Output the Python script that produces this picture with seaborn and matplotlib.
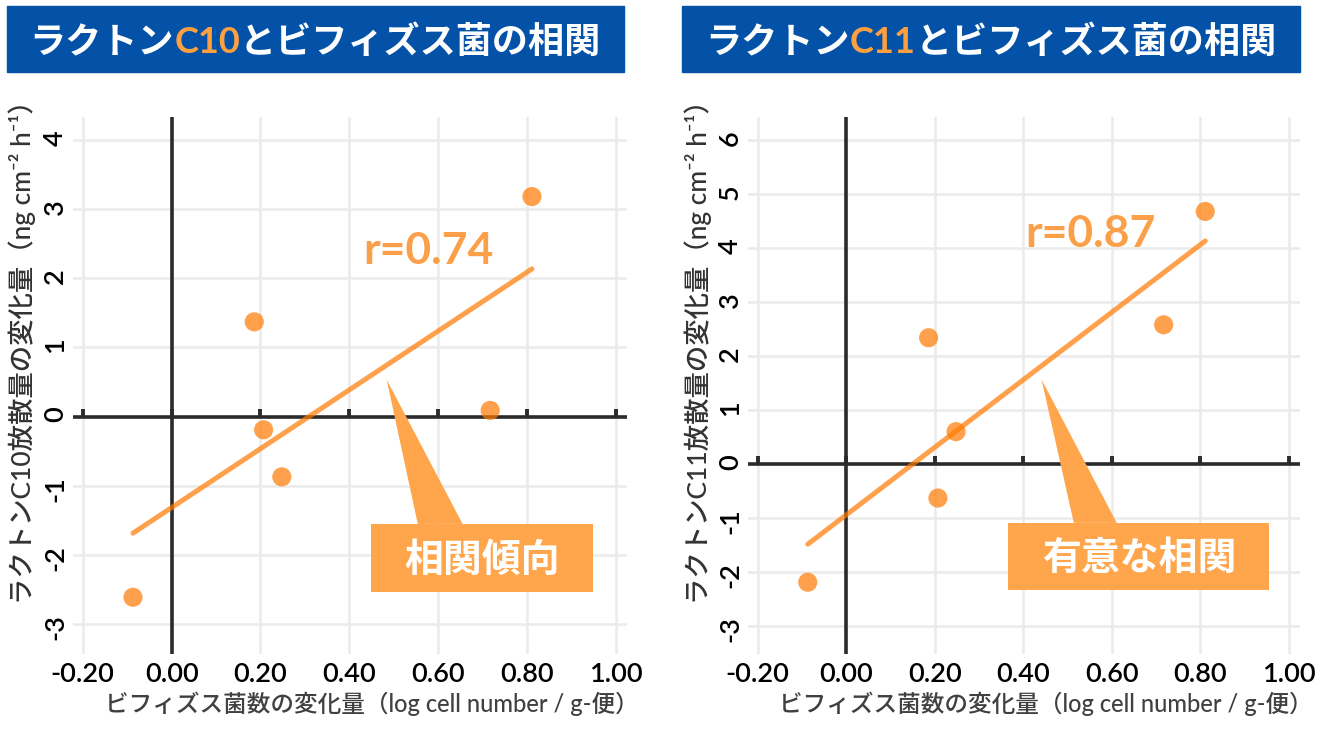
import matplotlib
matplotlib.use("Agg")
import matplotlib.pyplot as plt
import seaborn as sns
from matplotlib.patches import Rectangle, Polygon
from matplotlib.ticker import FormatStrFormatter

# data
bifido_change = [-0.087, 0.186, 0.207, 0.248, 0.717, 0.811]
c10_change = [-2.61, 1.37, -0.19, -0.87, 0.09, 3.18]
c11_change = [-2.19, 2.34, -0.63, 0.60, 2.58, 4.68]

x_ticks = [-0.2, 0.0, 0.2, 0.4, 0.6, 0.8, 1.0]
c10_yticks = [-3, -2, -1, 0, 1, 2, 3, 4]
c11_yticks = [-3, -2, -1, 0, 1, 2, 3, 4, 5, 6]

c10_title = [("ラクトン", "white"), ("C10", "#FFA040"), ("とビフィズス菌の相関", "white")]
c11_title = [("ラクトン", "white"), ("C11", "#FFA040"), ("とビフィズス菌の相関", "white")]
c10_r = "r=0.74"
c11_r = "r=0.87"
c10_callout = "相関傾向"
c11_callout = "有意な相関"
c10_ylabel = "ラクトンC10放散量の変化量（ng cm⁻² h⁻¹）"
c11_ylabel = "ラクトンC11放散量の変化量（ng cm⁻² h⁻¹）"
xlabel = "ビフィズス菌数の変化量（log cell number / g-便）"

sns.set_theme(style="whitegrid")
plt.rcParams["font.family"] = ["Lato", "Noto Sans CJK JP", "DejaVu Sans"]
plt.rcParams["font.weight"] = "semibold"
plt.rcParams["axes.unicode_minus"] = False

ORANGE = "#FF7A00"
CALLOUT = "#FFA64D"
BLUE = "#0352A8"
AXIS = "#2B2B2B"
W, H = 1320, 740

fig = plt.figure(figsize=(13.2, 7.4), dpi=100)
renderer = fig.canvas.get_renderer()


def banner(x0, x1, parts):
    fig.patches.append(Rectangle((x0 / W, 1 - 72 / H), (x1 - x0) / W, 66 / H,
                                 transform=fig.transFigure, color=BLUE, zorder=0))
    texts = []
    for s, c in parts:
        t = fig.text(0, 1 - 53 / H, s, color=c, fontsize=26, fontweight="bold",
                     va="baseline", ha="left")
        texts.append((t, t.get_window_extent(renderer).width))
    start = (x0 + x1) / 2 - sum(w for _, w in texts) / 2
    for t, w in texts:
        t.set_x(start / W)
        start += w


def panel(rect, y, yticks, ylim, ylab, r_text, r_pos, callout, box, tip, base, txt_pos):
    ax = fig.add_axes(rect)
    ax.set_xlim(-0.222, 1.025)
    ax.set_ylim(*ylim)
    ax.set_xticks(x_ticks)
    ax.set_yticks(yticks)
    ax.xaxis.set_major_formatter(FormatStrFormatter("%.2f"))
    ax.grid(True, color="#EBEBEB", lw=1.8)
    ax.set_axisbelow(True)
    for s in ax.spines.values():
        s.set_visible(False)
    ax.tick_params(length=0, labelsize=19.5, labelcolor="black")
    ax.tick_params(axis="x", pad=6)
    ax.tick_params(axis="y", pad=3.5, labelrotation=90)

    ax.axhline(0, color=AXIS, lw=2.6, zorder=2)
    ax.axvline(0, color=AXIS, lw=2.6, zorder=2)
    ax.plot(x_ticks, [0] * len(x_ticks), ls="none", marker=2, ms=6, mew=2.8,
            color=AXIS, zorder=2)

    sns.regplot(x=bifido_change, y=y, ax=ax, scatter=False, ci=None, truncate=True,
                line_kws=dict(color=ORANGE, alpha=0.7, lw=3.6, zorder=3))
    sns.scatterplot(x=bifido_change, y=y, ax=ax, s=190, color=ORANGE, alpha=0.7,
                    edgecolor="none", zorder=4)

    ax.text(r_pos[0], r_pos[1], r_text, color="#FBA048", fontsize=32,
            fontweight="bold", ha="center", va="baseline", zorder=6)
    ax.add_patch(Rectangle((box[0], box[2]), box[1] - box[0], box[3] - box[2],
                           color=CALLOUT, zorder=5, lw=0))
    ax.add_patch(Polygon([tip, (base[0], box[3]), (base[1], box[3])],
                         closed=True, color=CALLOUT, zorder=5, lw=0))
    ax.text(txt_pos[0], txt_pos[1], callout, color="white", fontsize=28,
            fontweight="bold", ha="center", va="center", zorder=6)

    ax.set_xlabel(xlabel, fontsize=17, color="#404040", fontweight="medium")
    ax.xaxis.set_label_coords(0.54, -0.07)
    ax.set_ylabel(ylab, fontsize=19, color="#333333", fontweight="medium")
    ax.yaxis.set_label_coords(-0.066, 0.575)
    return ax


ax1 = panel([73 / W, 1 - 654 / H, 554 / W, 537 / H], c10_change, c10_yticks,
            (-3.43, 4.33), c10_ylabel, c10_r, (0.578, 2.20), c10_callout,
            (0.448, 0.948, -2.54, -1.55), (0.484, 0.536), (0.554, 0.655),
            (0.698, -2.07))

ax2 = panel([748 / W, 1 - 654 / H, 552 / W, 537 / H], c11_change, c11_yticks,
            (-3.52, 6.43), c11_ylabel, c11_r, (0.551, 4.02), c11_callout,
            (0.366, 0.955, -2.33, -1.09), (0.441, 1.57), (0.514, 0.611),
            (0.661, -1.74))

banner(7, 624, c10_title)
banner(682, 1300, c11_title)

fig.savefig("out.png", dpi=100)
